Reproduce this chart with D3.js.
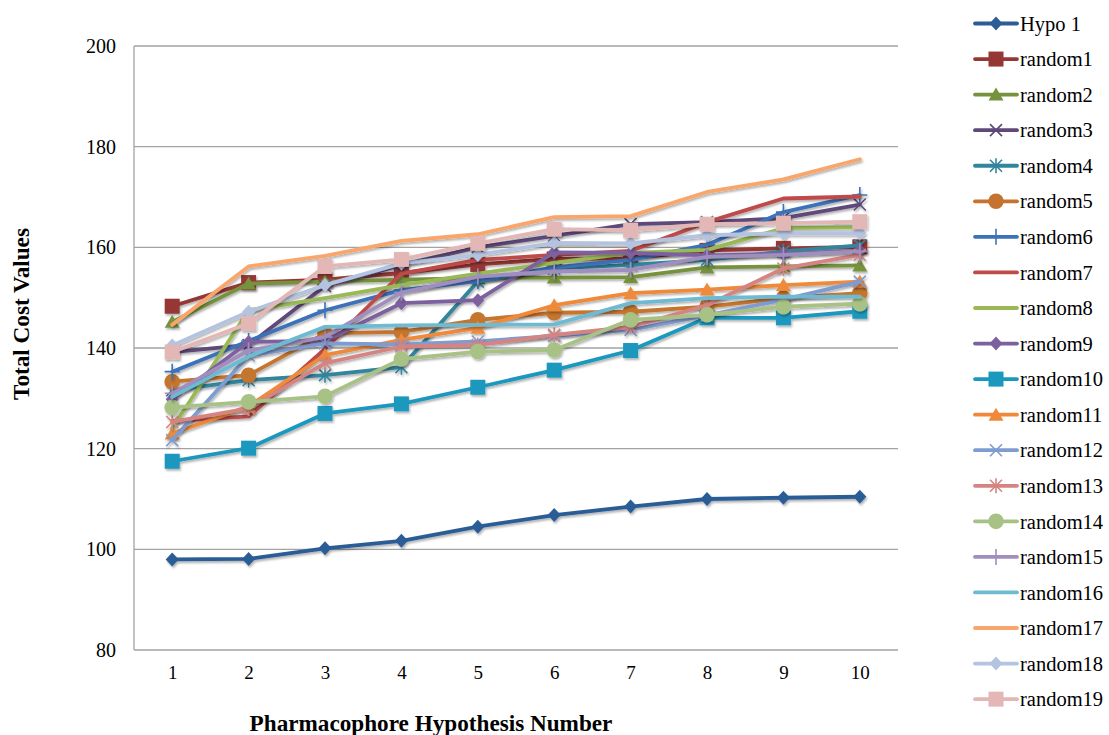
<!DOCTYPE html>
<html><head><meta charset="utf-8">
<script src="https://cdn.jsdelivr.net/npm/d3@7"></script>
<style>body{margin:0;background:#fff;} svg{display:block;}</style>
</head><body>
<svg id="chart" width="1109" height="735"></svg>
<script>
const categories = [1,2,3,4,5,6,7,8,9,10];
const yTicks = [80,100,120,140,160,180,200];
const seriesNames = ["Hypo 1","random1","random2","random3","random4","random5","random6","random7","random8","random9","random10","random11","random12","random13","random14","random15","random16","random17","random18","random19"];
const hypo1    = [98.0, 98.1, 100.2, 101.7, 104.5, 106.8, 108.5, 110.0, 110.25, 110.45];
const random1  = [148.3, 153.0, 153.6, 154.9, 156.6, 157.7, 157.8, 159.4, 159.8, 160.1];
const random2  = [145.2, 152.8, 153.2, 153.6, 153.9, 154.0, 154.1, 156.0, 156.2, 156.4];
const random3  = [139.2, 140.6, 152.3, 156.5, 160.0, 162.3, 164.6, 165.0, 165.8, 168.5];
const random4  = [131.6, 133.6, 134.6, 136.2, 153.2, 155.8, 156.5, 157.5, 159.2, 160.4];
const random5  = [133.3, 134.6, 142.9, 143.2, 145.6, 147.0, 147.2, 148.2, 149.9, 150.9];
const random6  = [135.3, 141.4, 147.5, 151.5, 153.3, 156.0, 157.5, 160.5, 167.0, 170.4];
const random7  = [125.5, 126.4, 139.8, 154.8, 157.5, 158.5, 159.3, 165.0, 169.7, 170.1];
const random8  = [124.0, 147.5, 149.9, 152.5, 154.8, 156.9, 158.9, 159.5, 163.8, 164.0];
const random9  = [129.8, 141.2, 141.4, 148.9, 149.5, 159.0, 158.9, 158.4, 158.7, 159.3];
const random10 = [117.5, 120.1, 127.0, 128.9, 132.2, 135.6, 139.5, 146.0, 146.0, 147.3];
const random11 = [123.0, 128.4, 138.6, 141.6, 144.0, 148.5, 150.9, 151.6, 152.5, 153.2];
const random12 = [121.7, 138.5, 140.9, 140.7, 141.3, 142.4, 143.6, 146.5, 149.6, 153.2];
const random13 = [125.3, 128.0, 137.0, 140.3, 140.6, 142.6, 144.2, 148.5, 155.8, 158.5];
const random14 = [128.2, 129.3, 130.4, 137.8, 139.3, 139.6, 145.6, 146.6, 148.2, 148.8];
const random15 = [131.0, 139.5, 142.2, 151.0, 154.2, 155.2, 155.5, 158.1, 158.5, 159.2];
const random16 = [130.3, 138.3, 144.2, 144.5, 144.6, 144.7, 148.9, 149.9, 150.2, 150.2];
const random17 = [144.6, 156.2, 158.3, 161.3, 162.6, 166.0, 166.2, 171.0, 173.5, 177.5];
const random18 = [140.5, 147.2, 152.5, 156.8, 158.5, 160.9, 160.8, 162.4, 162.8, 162.8];
const random19 = [139.2, 144.9, 156.2, 157.6, 160.8, 163.6, 163.4, 164.6, 164.8, 165.1];

const seriesValues = [hypo1,random1,random2,random3,random4,random5,random6,random7,random8,random9,random10,random11,random12,random13,random14,random15,random16,random17,random18,random19];
const colors = ["#2C5D96","#953735","#76923C","#5F497A","#31859C","#C4742E","#3D72B8","#BE4B48","#98B954","#7D60A0","#1B98BE","#F08A3A","#7E9CD0","#D58482","#A7C284","#A08EBF","#6EBAD2","#FAA56B","#B3C3E0","#E3B7B6"];
const markers = ["diamond","square","triangle","x","asterisk","circle","plus","none","none","diamond","square","triangle","x","asterisk","circle","plus","none","none","diamond","square"];

const FONT = "'Liberation Serif', 'Times New Roman', Times, serif";
const svg = d3.select("#chart");
const defs = svg.append("defs");
const f = defs.append("filter").attr("id","sh").attr("x","-20%").attr("y","-20%").attr("width","140%").attr("height","140%");
f.append("feDropShadow").attr("dx",1.2).attr("dy",2).attr("stdDeviation",1.3).attr("flood-color","#000").attr("flood-opacity",0.3);

const x = d3.scalePoint().domain(categories).range([134, 898]).padding(0.5);
const y = d3.scaleLinear().domain([80,200]).range([650,46]);

// grid
svg.append("g").selectAll("line").data(yTicks).join("line")
  .attr("x1",134).attr("x2",898)
  .attr("y1",d=>y(d)).attr("y2",d=>y(d))
  .attr("stroke","#a3a3a3").attr("stroke-width",1.3);
svg.append("line").attr("x1",134).attr("x2",134).attr("y1",y(200)).attr("y2",y(80)).attr("stroke","#a3a3a3").attr("stroke-width",1.3);

// axes labels
const yAxis = d3.axisLeft(y).tickValues(yTicks).tickSize(0).tickPadding(18);
const gy = svg.append("g").attr("transform","translate(134,0)").call(yAxis);
gy.attr("font-family",FONT);
gy.select(".domain").remove();
gy.selectAll("text").attr("font-family",FONT).attr("font-size",20).attr("fill","#000");

const xAxis = d3.axisBottom(x).tickSize(0).tickPadding(16);
const gx = svg.append("g").attr("transform","translate(0,650)").call(xAxis);
gx.attr("font-family",FONT);
gx.select(".domain").remove();
gx.selectAll("text").attr("font-family",FONT).attr("font-size",19).attr("fill","#000");

svg.append("text").attr("x",431).attr("y",731).attr("text-anchor","middle")
  .attr("font-family",FONT).attr("font-weight","bold").attr("font-size",23.2)
  .text("Pharmacophore Hypothesis Number");
svg.append("text").attr("transform","translate(29,314) rotate(-90)").attr("text-anchor","middle")
  .attr("font-family",FONT).attr("font-weight","bold").attr("font-size",23.2)
  .text("Total Cost Values");

function drawMarker(g, type, color, cx, cy){
  const s = 7.5;
  if(type==="diamond"){
    g.append("path").attr("d",`M${cx},${cy-7}L${cx+6.5},${cy}L${cx},${cy+7}L${cx-6.5},${cy}Z`).attr("fill",color);
  } else if(type==="square"){
    g.append("rect").attr("x",cx-s).attr("y",cy-s).attr("width",2*s).attr("height",2*s).attr("fill",color);
  } else if(type==="triangle"){
    g.append("path").attr("d",`M${cx},${cy-7}L${cx+7.5},${cy+6}L${cx-7.5},${cy+6}Z`).attr("fill",color);
  } else if(type==="circle"){
    g.append("circle").attr("cx",cx).attr("cy",cy).attr("r",7.8).attr("fill",color);
  } else if(type==="x"){
    g.append("path").attr("d",`M${cx-6},${cy-6}L${cx+6},${cy+6}M${cx-6},${cy+6}L${cx+6},${cy-6}`).attr("stroke",color).attr("stroke-width",1.6).attr("fill","none");
  } else if(type==="asterisk"){
    g.append("path").attr("d",`M${cx-6},${cy-6}L${cx+6},${cy+6}M${cx-6},${cy+6}L${cx+6},${cy-6}M${cx},${cy-7.5}L${cx},${cy+7.5}`).attr("stroke",color).attr("stroke-width",1.6).attr("fill","none");
  } else if(type==="plus"){
    g.append("path").attr("d",`M${cx-7.5},${cy}L${cx+7.5},${cy}M${cx},${cy-8}L${cx},${cy+8}`).attr("stroke",color).attr("stroke-width",1.6).attr("fill","none");
  }
}

const line = d3.line().x((d,i)=>x(categories[i])).y(d=>y(d));
const plot = svg.append("g");
seriesValues.forEach((vals, si)=>{
  const g = plot.append("g").attr("filter","url(#sh)");
  g.append("path").datum(vals).attr("d",line).attr("fill","none")
    .attr("stroke",colors[si]).attr("stroke-width",3.8).attr("stroke-linejoin","round").attr("stroke-linecap","round");
  vals.forEach((v,i)=>drawMarker(g, markers[si], colors[si], x(categories[i]), y(v)));
});

// legend
const leg = svg.append("g");
seriesNames.forEach((name, i)=>{
  const cy = 23.5 + i*35.56;
  const g = leg.append("g");
  g.append("line").attr("x1",975).attr("x2",1017).attr("y1",cy).attr("y2",cy).attr("stroke",colors[i]).attr("stroke-width",3.8).attr("stroke-linecap","round");
  drawMarker(g, markers[i], colors[i], 996, cy);
  g.append("text").attr("x",1020).attr("y",cy).attr("dy","0.35em")
    .attr("font-family",FONT).attr("font-size",20.5).attr("fill","#000")
    .text(name);
});
</script>
</body></html>
